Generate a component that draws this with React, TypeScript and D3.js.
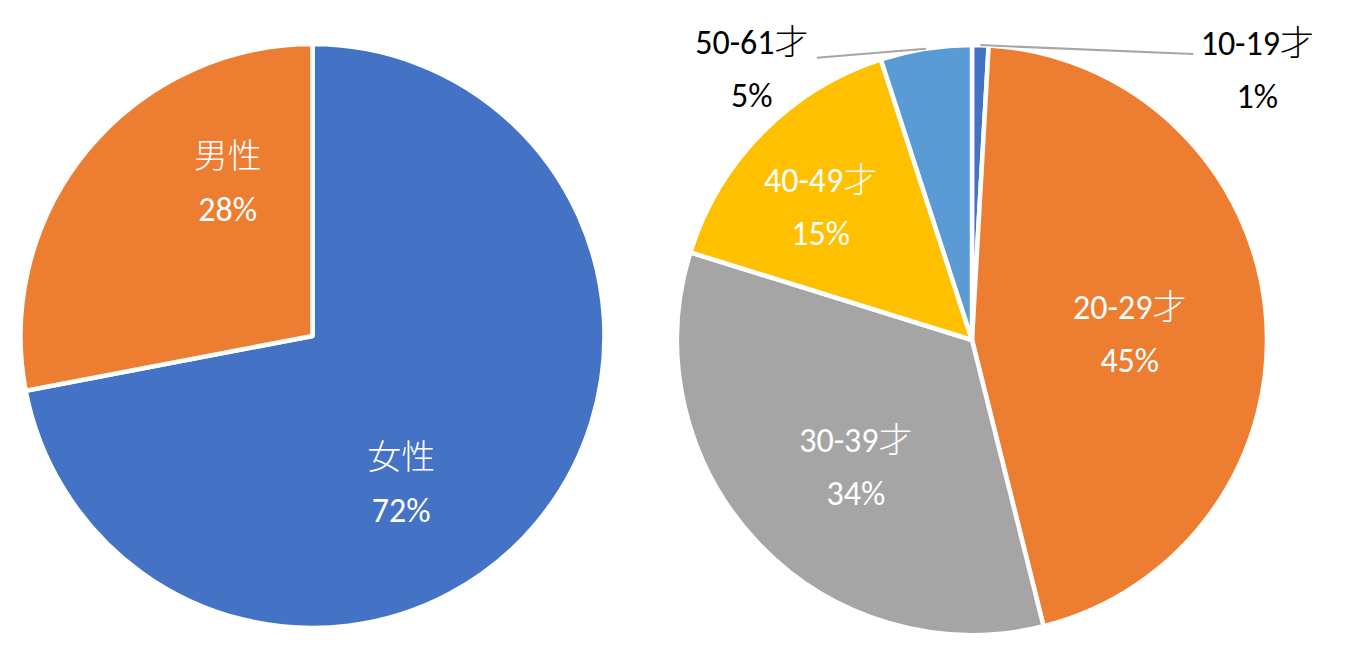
import React from "react";
import * as d3 from "d3";

const genderCategories = ["女性", "男性"];
const genderValues = [72, 28];
const genderLabels = ["72%", "28%"];
const genderColors = ["#4472C4", "#ED7D31"];

const ageCategories = ["10-19才", "20-29才", "30-39才", "40-49才", "50-61才"];
const ageValues = [0.9, 45.2, 33.7, 15.2, 5.0];
const ageLabels = ["1%", "45%", "34%", "15%", "5%"];
const ageColors = ["#4472C4", "#ED7D31", "#A5A5A5", "#FFC000", "#5B9BD5"];

// label placement: angle (deg clockwise from top) and radius fraction for inside labels,
// or offset from the slice's arc midpoint for outside labels
const genderPlacement = [
  { angle: 149.3, r: 0.595 },
  { angle: 330.8, r: 0.595 },
];
const agePlacement = [
  { outside: true, dx: 277, dy: 26 },
  { angle: 88.5, r: 0.535 },
  { angle: 222.2, r: 0.586 },
  { angle: 311, r: 0.68 },
  { outside: true, dx: -174, dy: 22 },
];

const W = 1357;
const H = 667;
const FONT = "Carlito, Calibri, 'Noto Sans', 'Noto Sans CJK JP', sans-serif";
const FS = 34;
const LINE = 53;

type Placement = { angle?: number; r?: number; outside?: boolean; dx?: number; dy?: number };

function Pie(props: {
  cx: number;
  cy: number;
  R: number;
  values: number[];
  cats: string[];
  labels: string[];
  colors: string[];
  placement: Placement[];
}) {
  const { cx, cy, R, values, cats, labels, colors, placement } = props;
  const pie = d3.pie<number>().sort(null).value((d) => d)(values);
  const arc = d3.arc<d3.PieArcDatum<number>>().innerRadius(0).outerRadius(R);
  return (
    <g transform={`translate(${cx},${cy})`}>
      {pie.map((p, i) => (
        <path key={i} d={arc(p) || ""} fill={colors[i]} stroke="#fff" strokeWidth={4.5} strokeLinejoin="round" />
      ))}
      {pie.map((p, i) => {
        const pl = placement[i];
        if (pl.outside) {
          const mid = (p.startAngle + p.endAngle) / 2;
          const ax = R * Math.sin(mid);
          const ay = -R * Math.cos(mid);
          const lx = ax + (pl.dx || 0);
          const ly = ay + (pl.dy || 0);
          const lineEndX = lx + (pl.dx! > 0 ? -64 : 65);
          return (
            <g key={"l" + i}>
              <line x1={ax} y1={ay} x2={lineEndX} y2={ay + (pl.dy! > 0 ? 9 : 5)} stroke="#A6A6A6" strokeWidth={2} />
              <text x={lx} y={ly - LINE / 2 + 10} textAnchor="middle" fontFamily={FONT} fontSize={FS} fontWeight={300} fill="#000">
                {cats[i]}
              </text>
              <text x={lx} y={ly + LINE / 2 + 10} textAnchor="middle" fontFamily={FONT} fontSize={FS} fontWeight={300} fill="#000">
                {labels[i]}
              </text>
            </g>
          );
        }
        const a = ((pl.angle || 0) * Math.PI) / 180;
        const rr = (pl.r || 0) * R;
        const x = rr * Math.sin(a);
        const y = -rr * Math.cos(a);
        return (
          <g key={"l" + i}>
            <text x={x} y={y - LINE / 2 + 10} textAnchor="middle" fontFamily={FONT} fontSize={FS} fontWeight={300} fill="#fff">
              {cats[i]}
            </text>
            <text x={x} y={y + LINE / 2 + 10} textAnchor="middle" fontFamily={FONT} fontSize={FS} fontWeight={300} fill="#fff">
              {labels[i]}
            </text>
          </g>
        );
      })}
    </g>
  );
}

export default function App() {
  return (
    <svg
      width={W}
      height={H}
      style={{ position: "absolute", left: 0, top: 0, background: "#fff" }}
    >
      <Pie
        cx={312.5}
        cy={336}
        R={292}
        values={genderValues}
        cats={genderCategories}
        labels={genderLabels}
        colors={genderColors}
        placement={genderPlacement}
      />
      <Pie
        cx={972}
        cy={340}
        R={295}
        values={ageValues}
        cats={ageCategories}
        labels={ageLabels}
        colors={ageColors}
        placement={agePlacement}
      />
    </svg>
  );
}
